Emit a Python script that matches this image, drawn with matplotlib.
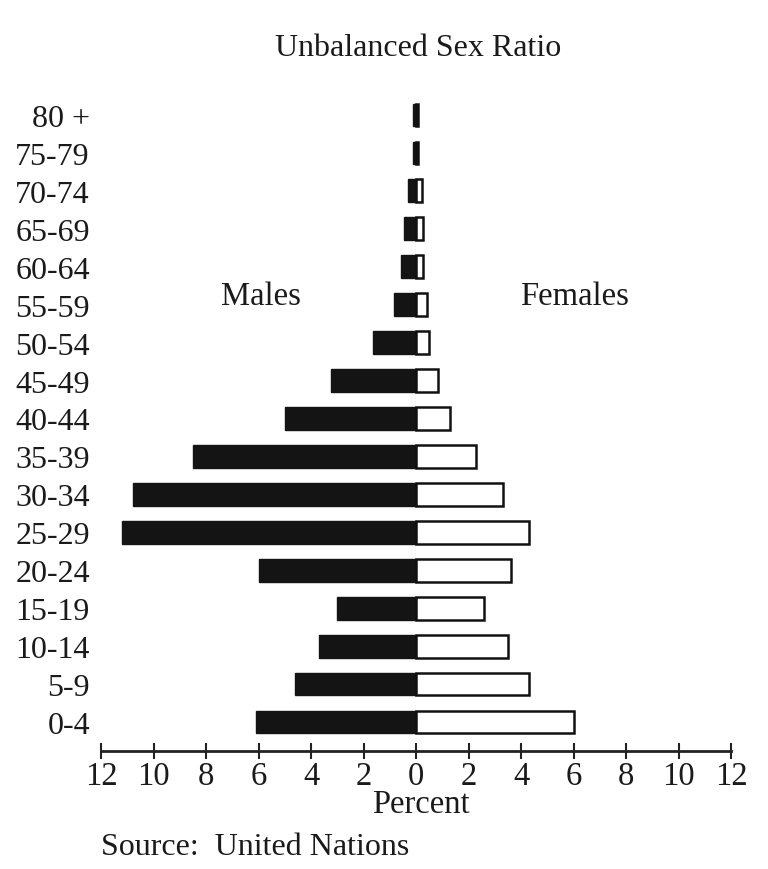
import matplotlib
matplotlib.use("Agg")
import matplotlib.pyplot as plt
import numpy as np

age_groups = ["0-4", "5-9", "10-14", "15-19", "20-24", "25-29", "30-34", "35-39",
              "40-44", "45-49", "50-54", "55-59", "60-64", "65-69", "70-74", "75-79", "80 +"]
males = [6.1, 4.6, 3.7, 3.0, 6.0, 11.2, 10.8, 8.5, 5.0, 3.25, 1.65, 0.85, 0.57, 0.45, 0.32, 0.12, 0.12]
females = [6.0, 4.3, 3.5, 2.6, 3.6, 4.3, 3.3, 2.3, 1.3, 0.83, 0.5, 0.42, 0.28, 0.25, 0.22, 0.08, 0.08]
xticks = [-12, -10, -8, -6, -4, -2, 0, 2, 4, 6, 8, 10, 12]
xticklabels = [str(abs(v)) for v in xticks]

plt.rcParams['font.family'] = ['Liberation Serif', 'DejaVu Serif']

W, H = 768, 870
fig = plt.figure(figsize=(W / 100, H / 100), dpi=100)
fig.patch.set_facecolor('white')

# axes placement (pixels)
left_px, right_px = 101, 731
bottom_px = 752
row0_px, row16_px = 723, 116
s = (row0_px - row16_px) / 16.0
ybot = -(bottom_px - row0_px) / s
ytop = 16.6
top_px = row0_px - ytop * s
ax = fig.add_axes([left_px / W, (H - bottom_px) / H, (right_px - left_px) / W,
                   (bottom_px - top_px) / H])

y = np.arange(len(age_groups))
bh = 0.6
ax.barh(y, [-m for m in males], height=bh, color='#141414', edgecolor='#141414',
        linewidth=1.0, zorder=2)
ax.barh(y, females, height=bh, color='white', edgecolor='#111111', linewidth=1.8, zorder=2)

ax.set_xlim(-12, 12)
ax.set_ylim(ybot, ytop)
for sp in ['top', 'right', 'left']:
    ax.spines[sp].set_visible(False)
ax.spines['bottom'].set_linewidth(2.0)
ax.spines['bottom'].set_color('#222222')
ax.set_xticks(xticks)
ax.set_xticklabels(xticklabels, fontsize=23.5)
ax.tick_params(axis='x', direction='inout', length=11, width=1.5, pad=1, colors='#222222')
ax.set_yticks(y)
ax.set_yticklabels(age_groups, fontsize=23)
ax.tick_params(axis='y', length=0, pad=8)
for lab in ax.get_xticklabels() + ax.get_yticklabels():
    lab.set_color('#1a1a1a')

fig.text(418 / W, 1 - 48 / H, "Unbalanced Sex Ratio", ha='center', va='center',
         fontsize=23, color='#1a1a1a')
fig.text(261 / W, 1 - 297 / H, "Males", ha='center', va='center', fontsize=23.5, color='#1a1a1a')
fig.text(575 / W, 1 - 297 / H, "Females", ha='center', va='center', fontsize=23.5, color='#1a1a1a')
fig.text(421 / W, 1 - 805 / H, "Percent", ha='center', va='center', fontsize=23.5, color='#1a1a1a')
fig.text(101 / W, 1 - 848 / H, "Source:  United Nations", ha='left', va='center',
         fontsize=23, color='#1a1a1a')

fig.savefig("out.png", dpi=100, facecolor='white')
